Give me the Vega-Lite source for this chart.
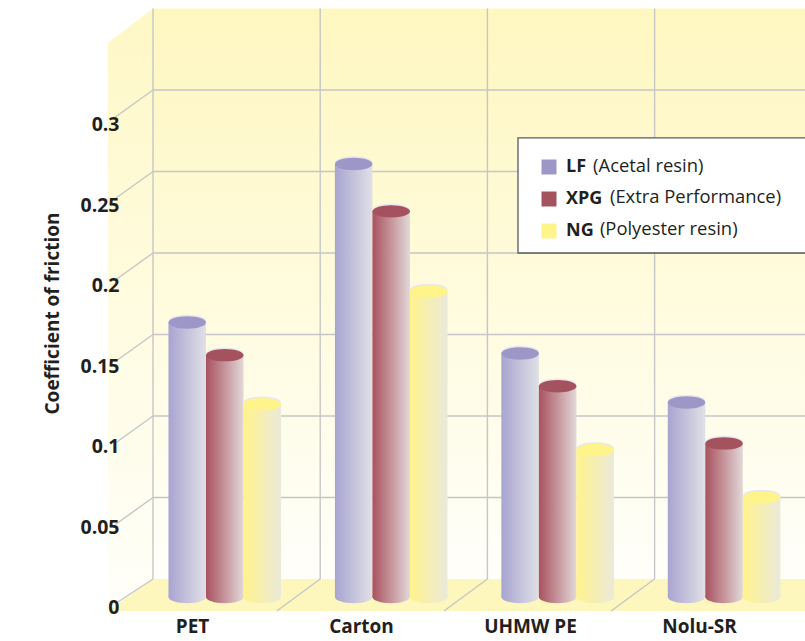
{"$schema":"https://vega.github.io/schema/vega-lite/v6.json","width":805,"height":641,"padding":0,"autosize":"none","background":"white",
"datasets":{
"bars":[
{"material":"PET","series":"LF","value":0.168},{"material":"PET","series":"XPG","value":0.148},{"material":"PET","series":"NG","value":0.118},
{"material":"Carton","series":"LF","value":0.265},{"material":"Carton","series":"XPG","value":0.236},{"material":"Carton","series":"NG","value":0.187},
{"material":"UHMW PE","series":"LF","value":0.149},{"material":"UHMW PE","series":"XPG","value":0.129},{"material":"UHMW PE","series":"NG","value":0.09},
{"material":"Nolu-SR","series":"LF","value":0.119},{"material":"Nolu-SR","series":"XPG","value":0.094},{"material":"Nolu-SR","series":"NG","value":0.061}],
"grid":[
{"k0":0,"k1":3.9,"v0":0.05,"v1":0.05},{"k0":0,"k1":3.9,"v0":0.1,"v1":0.1},{"k0":0,"k1":3.9,"v0":0.15,"v1":0.15},{"k0":0,"k1":3.9,"v0":0.2,"v1":0.2},{"k0":0,"k1":3.9,"v0":0.25,"v1":0.25},{"k0":0,"k1":3.9,"v0":0.3,"v1":0.3},
{"k0":0,"k1":0,"v0":0,"v1":0.35},{"k0":1,"k1":1,"v0":0,"v1":0.35},{"k0":2,"k1":2,"v0":0,"v1":0.35},{"k0":3,"k1":3,"v0":0,"v1":0.35},
{"k0":0,"k1":-0.21,"v0":0,"v1":-0.0141},{"k0":0,"k1":-0.225,"v0":0.05,"v1":0.0334},{"k0":0,"k1":-0.225,"v0":0.1,"v1":0.0834},{"k0":0,"k1":-0.225,"v0":0.15,"v1":0.1334},{"k0":0,"k1":-0.225,"v0":0.2,"v1":0.1834},{"k0":0,"k1":-0.225,"v0":0.25,"v1":0.2334},{"k0":0,"k1":-0.225,"v0":0.3,"v1":0.2834},
{"k0":1,"k1":0.74,"v0":0,"v1":-0.0196},{"k0":2,"k1":1.74,"v0":0,"v1":-0.0196},{"k0":3,"k1":2.74,"v0":0,"v1":-0.0196}],
"notes":[{"text":"(Acetal resin)","k":2.632,"v":0.2535},{"text":"(Extra Performance)","k":2.733,"v":0.2345},{"text":"(Polyester resin)","k":2.673,"v":0.215}]
},
"layer":[
{"encoding":{},"layer":[
{"data":{"values":[{"k0":0,"k1":3.9,"v0":0,"v1":0.35}]},"mark":{"type":"rect","color":{"gradient":"linear","x1":0,"y1":0,"x2":0,"y2":1,"stops":[{"offset":0,"color":"#fef7c0"},{"offset":1,"color":"#fffffa"}]}},
"encoding":{"x":{"field":"k0","type":"quantitative","axis":null,"scale":{"domain":[-0.9151,3.8995]}},"x2":{"field":"k1"},"y":{"field":"v0","type":"quantitative","axis":null,"scale":{"domain":[-0.03804,0.35521]}},"y2":{"field":"v1"}}},
{"data":{"values":[{"k":-0.269,"top":0.329,"bot":-0.0196},{"k":0,"top":0.35,"bot":0}]},"mark":{"type":"area","color":{"gradient":"linear","x1":0,"y1":0,"x2":0,"y2":1,"stops":[{"offset":0,"color":"#fef8c6"},{"offset":1,"color":"#fffffa"}]}},
"encoding":{"x":{"field":"k","type":"quantitative","axis":null,"scale":{"domain":[-0.9151,3.8995]}},"y":{"field":"top","type":"quantitative","axis":null,"scale":{"domain":[-0.03804,0.35521]}},"y2":{"field":"bot"}}},
{"data":{"values":[{"k":-0.269,"top":-0.0196,"bot":-0.0196},{"k":0,"top":0,"bot":-0.0196},{"k":3.9,"top":0,"bot":-0.0196}]},"mark":{"type":"area","color":"#fdf7bd"},
"encoding":{"x":{"field":"k","type":"quantitative","axis":null,"scale":{"domain":[-0.9151,3.8995]}},"y":{"field":"top","type":"quantitative","axis":null,"scale":{"domain":[-0.03804,0.35521]}},"y2":{"field":"bot"}}},
{"data":{"name":"grid"},"mark":{"type":"rule","color":"#c6c6c6","strokeWidth":1.4},
"encoding":{"x":{"field":"k0","type":"quantitative","axis":null,"scale":{"domain":[-0.9151,3.8995]}},"x2":{"field":"k1"},"y":{"field":"v0","type":"quantitative","axis":null,"scale":{"domain":[-0.03804,0.35521]}},"y2":{"field":"v1"}}},
{"data":{"values":[{"k0":2.183,"k1":3.95,"v0":0.2,"v1":0.2706}]},"mark":{"type":"rect","color":"white","stroke":"#58595b","strokeWidth":1.3},
"encoding":{"x":{"field":"k0","type":"quantitative","axis":null,"scale":{"domain":[-0.9151,3.8995]}},"x2":{"field":"k1"},"y":{"field":"v0","type":"quantitative","axis":null,"scale":{"domain":[-0.03804,0.35521]}},"y2":{"field":"v1"}}},
{"data":{"name":"notes"},"mark":{"type":"text","align":"left","baseline":"middle","font":"Open Sans","fontSize":18.4,"color":"#231f20"},
"encoding":{"x":{"field":"k","type":"quantitative","axis":null,"scale":{"domain":[-0.9151,3.8995]}},"y":{"field":"v","type":"quantitative","axis":null,"scale":{"domain":[-0.03804,0.35521]}},"text":{"field":"text"}}}
]},
{"data":{"name":"bars"},
"encoding":{"x":{"field":"material","type":"nominal","axis":null,"sort":["PET","Carton","UHMW PE","Nolu-SR"],"scale":{"range":[141.85,807],"paddingInner":0.3235,"paddingOuter":0.16}},
"xOffset":{"field":"series","type":"nominal","sort":["LF","XPG","NG"],"scale":{"paddingInner":0,"paddingOuter":0}},
"y":{"field":"value","type":"quantitative","axis":null,"stack":null,"scale":{"domain":[-0.02693,0.36536]}}},
"layer":[
{"transform":[{"filter":"datum.series==='LF'"}],"mark":{"type":"bar","color":{"gradient":"linear","x1":0,"y1":0,"x2":1,"y2":0,"stops":[{"offset":0,"color":"#a8a4d1"},{"offset":1,"color":"#e0e0e6"}]}}},
{"transform":[{"filter":"datum.series==='LF'"}],"mark":{"type":"point","filled":true,"size":1406,"opacity":1,"shape":"M-1,0A1,0.33 0 1,1 1,0A1,0.33 0 1,1 -1,0Z","color":{"gradient":"linear","x1":0,"y1":0,"x2":1,"y2":0,"stops":[{"offset":0,"color":"#a8a4d1"},{"offset":1,"color":"#e0e0e6"}]}},"encoding":{"y":{"datum":0,"type":"quantitative"}}},
{"transform":[{"filter":"datum.series==='XPG'"}],"mark":{"type":"bar","color":{"gradient":"linear","x1":0,"y1":0,"x2":1,"y2":0,"stops":[{"offset":0,"color":"#a9525f"},{"offset":1,"color":"#e2d8d8"}]}}},
{"transform":[{"filter":"datum.series==='XPG'"}],"mark":{"type":"point","filled":true,"size":1406,"opacity":1,"shape":"M-1,0A1,0.33 0 1,1 1,0A1,0.33 0 1,1 -1,0Z","color":{"gradient":"linear","x1":0,"y1":0,"x2":1,"y2":0,"stops":[{"offset":0,"color":"#a9525f"},{"offset":1,"color":"#e2d8d8"}]}},"encoding":{"y":{"datum":0,"type":"quantitative"}}},
{"transform":[{"filter":"datum.series==='NG'"}],"mark":{"type":"bar","color":{"gradient":"linear","x1":0,"y1":0,"x2":1,"y2":0,"stops":[{"offset":0,"color":"#fff38c"},{"offset":1,"color":"#ebe9da"}]}}},
{"transform":[{"filter":"datum.series==='NG'"}],"mark":{"type":"point","filled":true,"size":1406,"opacity":1,"shape":"M-1,0A1,0.33 0 1,1 1,0A1,0.33 0 1,1 -1,0Z","color":{"gradient":"linear","x1":0,"y1":0,"x2":1,"y2":0,"stops":[{"offset":0,"color":"#fff38c"},{"offset":1,"color":"#ebe9da"}]}},"encoding":{"y":{"datum":0,"type":"quantitative"}}},
{"mark":{"type":"point","filled":true,"size":1406,"opacity":1,"yOffset":-1.5,"color":"#e8e6ee","shape":"M-1,0A1,0.33 0 1,1 1,0A1,0.33 0 1,1 -1,0Z"}},
{"mark":{"type":"point","filled":true,"size":1406,"opacity":1,"shape":"M-1,0A1,0.33 0 1,1 1,0A1,0.33 0 1,1 -1,0Z"},
"encoding":{"color":{"field":"series","type":"nominal","sort":["LF","XPG","NG"],"scale":{"domain":["LF","XPG","NG"],"range":["#9d97c8","#a5525f","#fff48a"]},
"legend":{"orient":"none","legendX":540,"legendY":158,"title":null,"symbolType":"square","symbolSize":225,"symbolOpacity":1,"symbolStrokeWidth":0,"rowPadding":14,"labelFont":"Open Sans","labelFontWeight":"bold","labelFontSize":18,"labelColor":"#231f20","labelOffset":8}}}}
]},
{"data":{"name":"bars"},"mark":{"type":"point","opacity":0},
"encoding":{
"x":{"field":"material","type":"nominal","sort":["PET","Carton","UHMW PE","Nolu-SR"],"scale":{"range":[107.5,783.5],"paddingInner":0,"paddingOuter":0},
"axis":{"title":null,"orient":"bottom","zindex":1,"domain":false,"ticks":false,"grid":false,"labelAngle":0,"labelFont":"Open Sans","labelFontWeight":"bold","labelFontSize":19,"labelColor":"#231f20","labelPadding":-24}},
"y":{"field":"value","type":"quantitative","stack":null,"scale":{"domain":[-0.0205,0.37764]},
"axis":{"values":[0,0.05,0.1,0.15,0.2,0.25,0.3],"format":"~g","orient":"left","zindex":1,"domain":false,"ticks":false,"grid":false,"labelFont":"Open Sans","labelFontWeight":"bold","labelFontSize":19.5,"labelColor":"#231f20","labelPadding":-119,"labelAlign":"right","title":"Coefficient of friction","titleFont":"Open Sans","titleFontWeight":"bold","titleFontSize":19,"titleColor":"#231f20","titleX":62,"titleY":313}}}}
],
"resolve":{"scale":{"x":"independent","y":"independent"},"axis":{"x":"independent","y":"independent"}},
"config":{"view":{"stroke":null}}}
